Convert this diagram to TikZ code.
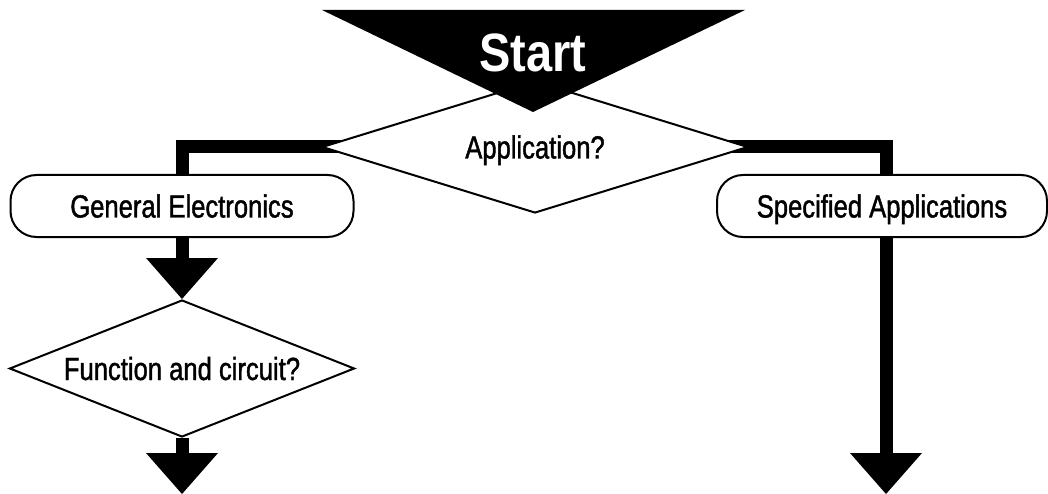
\documentclass[tikz,border=0pt]{standalone}
\usepackage{fontspec}
\setmainfont[FakeStretch=0.8,FakeBold=1.3]{Liberation Sans}
\newfontfamily\startfont[FakeStretch=0.87]{Liberation Sans}
\usetikzlibrary{shapes.geometric,arrows.meta,backgrounds}

\tikzset{
	label/.style={font=\fontsize{32}{32}\selectfont, text height=23pt, text depth=0pt},
	decision/.style={label, diamond, draw, line width=2pt, fill=white, inner sep=0pt},
	branch/.style={label, rectangle, rounded corners=26pt, draw, line width=2pt, fill=white, minimum height=62pt, inner sep=0pt},
	flow/.style={line width=13pt, line join=miter},
	flowarrow/.style={flow, -{Triangle[width=72pt,length=41pt,line width=0pt]}}
}

\begin{document}
\begin{tikzpicture}[x=1pt,y=-1pt]
		
		\useasboundingbox (0,0) rectangle (1048,494);
		
		\node[decision, aspect=3.2, minimum width=426pt, minimum height=132pt] (app) at (535,147) {Application?};
		\node[branch, minimum width=343pt] (genel) at (182,206) {General Electronics};
		\node[branch, minimum width=330pt] (spec) at (882,206) {Specified Applications};
		\node[decision, aspect=2.5, minimum width=345pt, minimum height=137pt] (func) at (182,368.5) {Function and circuit?};
		\coordinate (endl) at (182,494);
		\coordinate (endr) at (886,494);
		
		\fill (322,10) -- (745,10) -- (533,112) -- cycle;
		\node[text=white, anchor=base, font=\startfont\bfseries\fontsize{54}{54}\selectfont] (start) at (533,72) {Start};
		
		\begin{scope}[on background layer]
		\draw[flow] (app.center) -| (genel.north);
		\draw[flow] (app.center) -| ([xshift=4pt]spec.north);
		\draw[flowarrow] (genel.south) -- (func.north);
		\draw[flowarrow] (func.south) -- (endl);
		\draw[flowarrow] ([xshift=4pt]spec.south) -- (endr);
		%\draw[flow] (start) -- (app);
		\end{scope}
	\end{tikzpicture}
\end{document}
